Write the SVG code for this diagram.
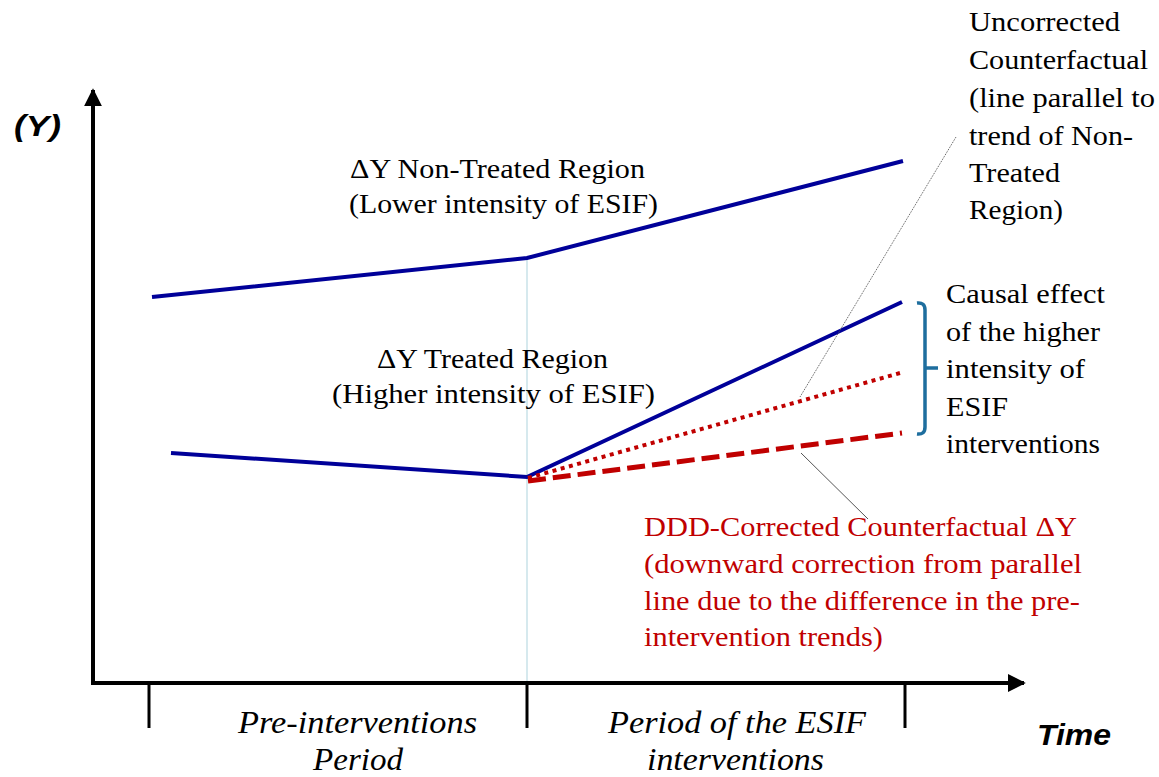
<svg xmlns="http://www.w3.org/2000/svg" width="1159" height="777" viewBox="0 0 1159 777">
<style>
.t{font-family:"Liberation Serif","Times New Roman",serif;font-size:28px;fill:#000}
.r{fill:#C00000}
.ti{font-family:"Liberation Serif","Times New Roman",serif;font-style:italic;font-size:31px;fill:#000}
.ax{font-family:"Liberation Sans",Arial,sans-serif;font-weight:bold;font-style:italic;font-size:29px;fill:#000}
.blue{stroke:#000099;stroke-width:4;fill:none}
.axis{stroke:#000;stroke-width:4;fill:none}
.tick{stroke:#000;stroke-width:3}
.lead{stroke:#555;stroke-width:1;fill:none}
</style>
<defs>
<marker id="ah" viewBox="0 0 10 10" refX="9" refY="5" markerWidth="4.5" markerHeight="4.5" orient="auto" markerUnits="strokeWidth">
<path d="M0,0 L10,5 L0,10 z" fill="#000"/>
</marker>
</defs>
<rect width="1159" height="777" fill="#fff"/>
<g id="axes">
<line x1="527" y1="258" x2="527" y2="683" stroke="#c8e2e8" stroke-width="1.5"/>
<path class="axis" d="M93,683 L93,90" marker-end="url(#ah)"/>
<path class="axis" d="M91,683 L1024,683" marker-end="url(#ah)"/>
<line class="tick" x1="149" y1="683" x2="149" y2="728"/>
<line class="tick" x1="527" y1="683" x2="527" y2="728"/>
<line class="tick" x1="905" y1="683" x2="905" y2="728"/>
<text class="ax" x="14" y="136" textLength="47" lengthAdjust="spacingAndGlyphs">(Y)</text>
<text class="ax" x="1037" y="745" textLength="74" lengthAdjust="spacingAndGlyphs">Time</text>
</g>
<g id="connectors">
<polyline class="blue" points="152,297 527,258 903,161"/>
<polyline class="blue" points="171,453 527,477 902,302"/>
<line x1="528" y1="478" x2="900" y2="373" stroke="#C00000" stroke-width="4" stroke-dasharray="4 4.5"/>
<line x1="528" y1="481" x2="902" y2="433" stroke="#C00000" stroke-width="5" stroke-dasharray="18 7"/>
<line class="lead" x1="956" y1="137" x2="800" y2="397" stroke-dasharray="1 1"/>
<line class="lead" x1="801" y1="453" x2="868" y2="519"/>
<path d="M917,303 Q925,302 925,310 L925,427 Q925,435 917,434 M925,368 L938,368" stroke="#1E6E9E" stroke-width="3.5" fill="none"/>
</g>
<g id="nontreated">
<text class="t" x="350" y="178" textLength="295" lengthAdjust="spacingAndGlyphs">ΔY Non-Treated Region</text>
<text class="t" x="349" y="213" textLength="309" lengthAdjust="spacingAndGlyphs">(Lower intensity  of ESIF)</text>
</g>
<g id="treated">
<text class="t" x="377" y="368" textLength="231" lengthAdjust="spacingAndGlyphs">ΔY Treated Region</text>
<text class="t" x="332" y="403" textLength="323" lengthAdjust="spacingAndGlyphs">(Higher intensity  of ESIF)</text>
</g>
<g id="uncorrected">
<text class="t" x="969" y="31" textLength="151" lengthAdjust="spacingAndGlyphs">Uncorrected</text>
<text class="t" x="969" y="69" textLength="179" lengthAdjust="spacingAndGlyphs">Counterfactual</text>
<text class="t" x="969" y="107" textLength="186" lengthAdjust="spacingAndGlyphs">(line parallel to</text>
<text class="t" x="969" y="145" textLength="164" lengthAdjust="spacingAndGlyphs">trend of Non-</text>
<text class="t" x="969" y="182" textLength="91" lengthAdjust="spacingAndGlyphs">Treated</text>
<text class="t" x="969" y="219" textLength="94" lengthAdjust="spacingAndGlyphs">Region)</text>
</g>
<g id="causal">
<text class="t" x="946" y="303" textLength="159" lengthAdjust="spacingAndGlyphs">Causal effect</text>
<text class="t" x="946" y="341" textLength="154" lengthAdjust="spacingAndGlyphs">of the higher</text>
<text class="t" x="946" y="378" textLength="139" lengthAdjust="spacingAndGlyphs">intensity  of</text>
<text class="t" x="946" y="416" textLength="62" lengthAdjust="spacingAndGlyphs">ESIF</text>
<text class="t" x="946" y="453" textLength="154" lengthAdjust="spacingAndGlyphs">interventions</text>
</g>
<g id="ddd">
<text class="t r" x="644" y="536" textLength="433" lengthAdjust="spacingAndGlyphs">DDD-Corrected Counterfactual ΔY</text>
<text class="t r" x="644" y="573" textLength="438" lengthAdjust="spacingAndGlyphs">(downward correction from parallel</text>
<text class="t r" x="644" y="610" textLength="436" lengthAdjust="spacingAndGlyphs">line due to the difference in the pre-</text>
<text class="t r" x="644" y="646" textLength="239" lengthAdjust="spacingAndGlyphs">intervention  trends)</text>
</g>
<g id="pre">
<text class="ti" x="238" y="733" textLength="239" lengthAdjust="spacingAndGlyphs">Pre-interventions</text>
<text class="ti" x="313" y="770" textLength="90" lengthAdjust="spacingAndGlyphs">Period</text>
</g>
<g id="post">
<text class="ti" x="608" y="733" textLength="258" lengthAdjust="spacingAndGlyphs">Period of the ESIF</text>
<text class="ti" x="647" y="770" textLength="177" lengthAdjust="spacingAndGlyphs">interventions</text>
</g>
</svg>
